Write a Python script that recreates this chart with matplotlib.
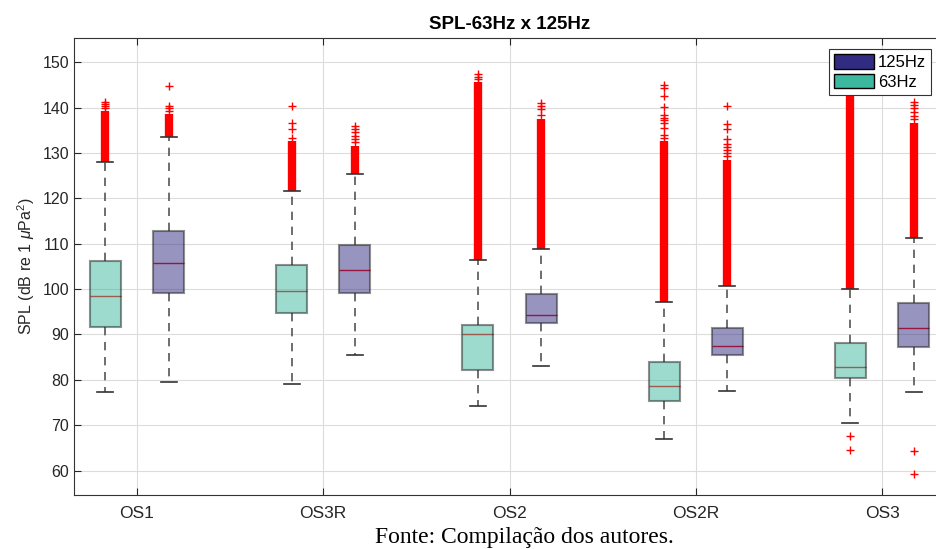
import matplotlib
matplotlib.use('Agg')
import matplotlib.pyplot as plt
from matplotlib.patches import Patch

plt.rcParams['font.family'] = ['Liberation Sans', 'DejaVu Sans']
plt.rcParams['mathtext.fontset'] = 'custom'
plt.rcParams['mathtext.rm'] = 'Liberation Sans'
plt.rcParams['mathtext.it'] = 'Liberation Sans:italic'

pontos = ['OS1', 'OS3R', 'OS2', 'OS2R', 'OS3']

# 63 Hz
q1_63 = [91.7, 94.7, 82.2, 75.4, 80.4]
med_63 = [98.4, 99.6, 90.1, 78.7, 82.8]
q3_63 = [106.2, 105.4, 92.0, 84.0, 88.2]
wlo_63 = [77.2, 79.1, 74.3, 66.9, 70.4]
whi_63 = [128.0, 121.6, 106.4, 97.1, 100.0]
denso_63 = [139.3, 132.6, 145.6, 132.6, 148.0]  # topo da faixa densa de outliers
out_63 = [
    [139.8, 140.3, 140.8, 141.3],
    [133.2, 135.2, 136.5, 140.3],
    [146.3, 146.8, 147.5],
    [133.2, 134.0, 135.5, 136.5, 137.2, 137.8, 138.3, 140.2, 142.5, 144.3, 145.0],
    [64.6, 67.7],
]

# 125 Hz
q1_125 = [99.2, 99.2, 92.6, 85.4, 87.3]
med_125 = [105.8, 104.2, 94.2, 87.4, 91.5]
q3_125 = [112.8, 109.6, 98.9, 91.5, 96.9]
wlo_125 = [79.5, 85.5, 83.1, 77.6, 77.4]
whi_125 = [133.5, 125.3, 108.8, 100.6, 111.2]
denso_125 = [138.5, 131.6, 137.5, 128.5, 136.6]
out_125 = [
    [139.2, 139.8, 140.3, 144.8],
    [132.3, 133.0, 133.8, 134.6, 135.3, 136.0],
    [138.3, 139.6, 140.3, 141.0],
    [129.3, 130.0, 130.6, 131.3, 132.0, 133.0, 135.3, 136.3, 140.3],
    [59.2, 64.4, 137.4, 138.2, 139.0, 139.8, 140.6, 141.3],
]

cor_63 = '#3bb89e'
cor_125 = '#312c82'

fig = plt.figure(figsize=(9.36, 5.49), dpi=100)
ax = fig.add_axes([74 / 936, 1 - 495 / 549, (945 - 74) / 936, (495 - 37.7) / 549])

desl = 0.17
larg = 0.167


def stats(q1, med, q3, wlo, whi, out):
    return [dict(q1=a, med=b, q3=c, whislo=d, whishi=e, fliers=f)
            for a, b, c, d, e, f in zip(q1, med, q3, wlo, whi, out)]


def desenha(st, pos, cor, denso, whi):
    ax.vlines(pos, whi, denso, colors='red', linewidth=6, zorder=2)
    ax.bxp(st, positions=pos, widths=larg, capwidths=0.086, patch_artist=True,
           manage_ticks=False,
           boxprops=dict(facecolor=cor, alpha=0.5, edgecolor='#222222', linewidth=1.5, zorder=3),
           medianprops=dict(color='red', linewidth=1.0, zorder=2.5),
           whiskerprops=dict(color='#555555', linestyle=(0, (5, 4)), linewidth=1.2),
           capprops=dict(color='#333333', linewidth=1.2),
           flierprops=dict(marker='+', markeredgecolor='red', markersize=6,
                           markeredgewidth=1.0, linestyle='none'))


x = list(range(1, len(pontos) + 1))
desenha(stats(q1_63, med_63, q3_63, wlo_63, whi_63, out_63),
        [i - desl for i in x], cor_63, denso_63, whi_63)
desenha(stats(q1_125, med_125, q3_125, wlo_125, whi_125, out_125),
        [i + desl for i in x], cor_125, denso_125, whi_125)

ax.set_xlim(1 - 0.338, 5 + 0.338)
ax.set_ylim(54.6, 155.4)
ax.set_xticks(x)
ax.set_xticklabels(pontos, fontsize=12.5)
ax.set_yticks(range(60, 151, 10))
ax.tick_params(axis='y', labelsize=11.5, direction='in', length=5, colors='#262626')
ax.tick_params(axis='x', direction='in', length=5, top=True, colors='#262626', pad=8)
ax.grid(True, color='#dcdcdc', linewidth=0.8)
ax.set_axisbelow(True)
for s in ax.spines.values():
    s.set_color('#333333')
    s.set_linewidth(0.8)

ax.set_ylabel('SPL (dB re 1 $\\mathit{\\mu}$Pa$^2$)', fontsize=11.5, color='#262626')
ax.set_title('SPL-63Hz x 125Hz', fontsize=13.5, fontweight='bold', pad=6)

leg = ax.legend(handles=[Patch(facecolor=cor_125, edgecolor='black', label='125Hz'),
                         Patch(facecolor=cor_63, edgecolor='black', label='63Hz')],
                loc='upper right', bbox_to_anchor=(931 / 936, 1 - 49 / 549),
                bbox_transform=fig.transFigure, fontsize=12, fancybox=False,
                framealpha=1, edgecolor='#333333', handlelength=2.4, handleheight=1.0,
                borderpad=0.3, labelspacing=0.2, handletextpad=0.25, borderaxespad=0)
leg.get_frame().set_linewidth(0.8)

fig.text(524 / 936, 1 - 538 / 549, 'Fonte: Compilação dos autores.',
         family=['Liberation Serif'], fontsize=17, ha='center', va='center')

fig.savefig('out.png', dpi=100)
